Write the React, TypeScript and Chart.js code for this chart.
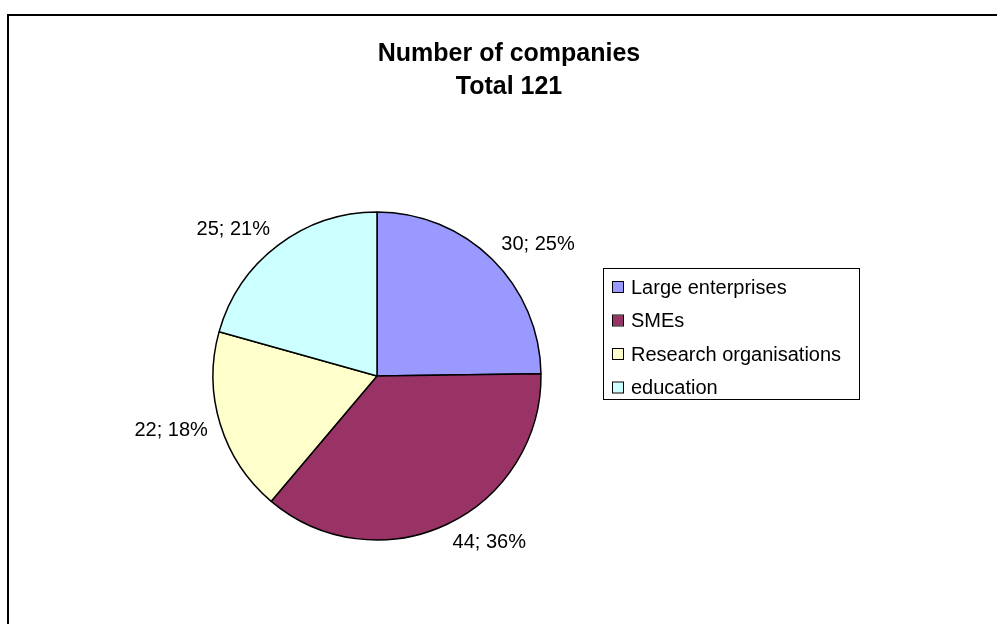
import React, { useEffect, useRef } from "react";
import { Chart, registerables } from "chart.js";

Chart.register(...registerables);

const TITLE_LINES = ["Number of companies", "Total 121"];
const CATEGORIES = ["Large enterprises", "SMEs", "Research organisations", "education"];
const VALUES = [30, 44, 22, 25];
const COLORS = ["#9999FF", "#993366", "#FFFFCC", "#CCFFFF"];

const FONT = "'Liberation Sans', Arial, sans-serif";

const overlayPlugin = {
  id: "overlay",
  afterDraw(chart: any) {
    const ctx = chart.ctx as CanvasRenderingContext2D;
    ctx.save();
    // outer chart border
    ctx.strokeStyle = "#000";
    ctx.lineWidth = 2;
    ctx.strokeRect(8, 15, 1100, 1000);

    // title
    ctx.fillStyle = "#000";
    ctx.font = `bold 25px ${FONT}`;
    ctx.textAlign = "center";
    ctx.textBaseline = "middle";
    TITLE_LINES.forEach((t, i) => ctx.fillText(t, 509, 54 + i * 33));

    // data labels (outside end: near edge of label anchored on the slice's mid ray)
    const total = VALUES.reduce((a, b) => a + b, 0);
    const meta = chart.getDatasetMeta(0);
    ctx.font = `20px ${FONT}`;
    ctx.textAlign = "left";
    ctx.textBaseline = "middle";
    meta.data.forEach((arc: any, i: number) => {
      const mid = (arc.startAngle + arc.endAngle) / 2;
      const dx = Math.cos(mid);
      const dy = Math.sin(mid);
      const txt = `${VALUES[i]}; ${Math.round((VALUES[i] / total) * 100)}%`;
      const w = ctx.measureText(txt).width;
      const h = 15;
      const R = arc.outerRadius + 13;
      const ax = arc.x + dx * R;
      const ay = arc.y + dy * R;
      const left = dx >= 0 ? ax : ax - w;
      const cy = ay + dy * (h / 2);
      ctx.fillText(txt, left, cy);
    });

    // legend
    const lx = 603, ly = 268, lw = 256, lh = 131;
    ctx.fillStyle = "#fff";
    ctx.fillRect(lx, ly, lw, lh);
    ctx.strokeStyle = "#000";
    ctx.lineWidth = 1;
    ctx.strokeRect(lx + 0.5, ly + 0.5, lw, lh);
    ctx.textAlign = "left";
    ctx.font = `20px ${FONT}`;
    CATEGORIES.forEach((c, i) => {
      const cy = 287 + i * 33.5;
      ctx.fillStyle = COLORS[i];
      ctx.fillRect(613, cy - 5, 10, 10);
      ctx.strokeStyle = "#000";
      ctx.strokeRect(612.5, cy - 5.5, 11, 11);
      ctx.fillStyle = "#000";
      ctx.fillText(c, 631, cy + 1);
    });
    ctx.restore();
  },
};

export default function App() {
  const ref = useRef<HTMLCanvasElement>(null);
  useEffect(() => {
    if (!ref.current) return;
    const chart = new Chart(ref.current, {
      type: "pie",
      data: {
        labels: CATEGORIES,
        datasets: [
          {
            data: VALUES,
            backgroundColor: COLORS,
            borderColor: "#000",
            borderWidth: 1.5,
            radius: 164,
          } as any,
        ],
      },
      options: {
        responsive: false,
        animation: false,
        layout: { padding: { left: 213, right: 456, top: 212, bottom: 84 } },
        plugins: {
          legend: { display: false },
          title: { display: false },
          tooltip: { enabled: false },
        },
      } as any,
      plugins: [overlayPlugin],
    });
    return () => chart.destroy();
  }, []);
  return (
    <canvas
      ref={ref}
      width={997}
      height={624}
      style={{ position: "fixed", left: 0, top: 0, width: 997, height: 624, background: "#fff" }}
    />
  );
}
